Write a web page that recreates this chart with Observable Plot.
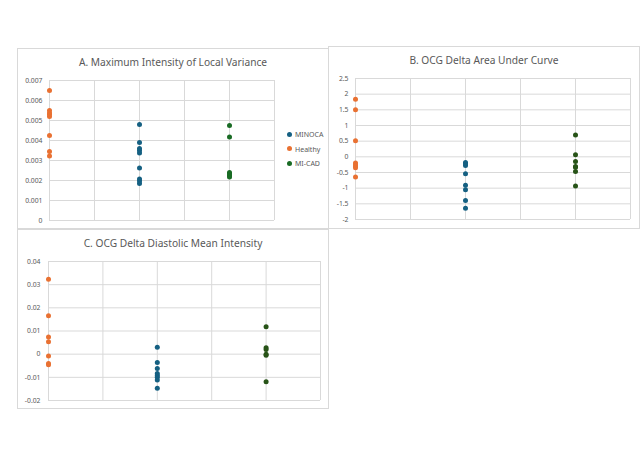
<!DOCTYPE html>
<html>
<head>
<meta charset="utf-8">
<script src="https://cdn.jsdelivr.net/npm/d3@7"></script>
<script src="https://cdn.jsdelivr.net/npm/@observablehq/plot@0.6"></script>
<style>
  html, body { margin: 0; padding: 0; background: #fff; }
  body { width: 644px; height: 458px; position: relative; overflow: hidden; font-family: "Noto Sans", sans-serif; color: #595959; }
  .panel { position: absolute; background: #fff; outline: 1px solid #d9d9d9; outline-offset: -1px; }
  .panel svg { position: absolute; left: 0; top: 0; }
  .title { position: absolute; left: 0; right: 0; text-align: center; font-size: 10.2px; line-height: 1; color: #595959; white-space: nowrap; }
  .legend { position: absolute; font-size: 7px; color: #595959; }
  .legend .item { position: absolute; white-space: nowrap; line-height: 1; }
  .legend .sw { display: inline-block; width: 5px; height: 5px; border-radius: 50%; margin-right: 3px; vertical-align: middle; position: relative; top: -1px; }
</style>
</head>
<body>
<script>
// ---- data ----
const groups = ["MINOCA", "Healthy", "MI-CAD"];
const groupXValue = [2, 0, 4];
const xGridValues = [0, 1, 2, 3, 4, 5];

const titleA = "A. Maximum Intensity of Local Variance";
const aMinoca = [0.0048, 0.0039, 0.0036, 0.0035, 0.00338, 0.00262, 0.00208, 0.00197, 0.00185];
const aHealthy = [0.0065, 0.0055, 0.00538, 0.0053, 0.0052, 0.00425, 0.00345, 0.00322];
const aMicad = [0.00475, 0.00417, 0.0024, 0.00232, 0.00225, 0.00218];
const aTicks = [0, 0.001, 0.002, 0.003, 0.004, 0.005, 0.006, 0.007];

const titleB = "B. OCG Delta Area Under Curve";
const bMinoca = [-0.18, -0.22, -0.28, -0.54, -0.91, -1.05, -1.39, -1.64];
const bHealthy = [1.84, 1.5, 0.51, -0.2, -0.25, -0.3, -0.35, -0.64];
const bMicad = [0.7, 0.07, -0.15, -0.31, -0.33, -0.47, -0.93];
const bTicks = [-2, -1.5, -1, -0.5, 0, 0.5, 1, 1.5, 2, 2.5];

const titleC = "C. OCG Delta Diastolic Mean Intensity";
const cMinoca = [0.003, -0.0036, -0.0062, -0.0083, -0.0092, -0.0100, -0.0111, -0.0147];
const cHealthy = [0.0323, 0.0166, 0.0074, 0.0054, -0.0008, -0.004, -0.0046];
const cMicad = [0.0118, 0.0028, 0.002, 0.0, -0.0005, -0.0119];
const cTicks = [-0.02, -0.01, 0, 0.01, 0.02, 0.03, 0.04];

// ---- styles ----
const colorsA = ["#156082", "#E97132", "#196B24"];
const colorsBC = ["#156082", "#E97132", "#275317"];

// ---- helpers ----
function rows(seriesList) {
  const out = [];
  seriesList.forEach((vals, i) => vals.forEach(v => out.push({group: groups[i], x: groupXValue[i], v})));
  return out;
}
const fmt = d => String(Math.round(d * 10000) / 10000);

function makePanel({left, top, width, height, title, titleTop, data, ticks, margins, tickPadding, colors}) {
  const div = document.createElement("div");
  div.className = "panel";
  Object.assign(div.style, {left: left + "px", top: top + "px", width: width + "px", height: height + "px"});
  const chart = Plot.plot({
    width, height,
    marginLeft: margins[0], marginRight: margins[1], marginTop: margins[2], marginBottom: margins[3],
    style: {background: "transparent", fontFamily: "'Noto Sans', sans-serif", fontSize: "6.8px", color: "#595959", overflow: "visible"},
    x: {domain: [0, 5], axis: null},
    y: {domain: [ticks[0], ticks[ticks.length - 1]], ticks, tickSize: 0, tickPadding, tickFormat: fmt, label: null},
    color: {domain: groups, range: colors},
    marks: [
      Plot.ruleY(ticks, {stroke: "#d9d9d9", strokeWidth: 1}),
      Plot.ruleX(xGridValues, {stroke: "#d9d9d9", strokeWidth: 1}),
      Plot.dot(data, {x: "x", y: "v", fill: "group", r: 2.5})
    ]
  });
  div.appendChild(chart);
  const t = document.createElement("div");
  t.className = "title";
  t.style.top = titleTop + "px";
  t.textContent = title;
  div.appendChild(t);
  document.body.appendChild(div);
  return div;
}

const panelA = makePanel({left: 17, top: 48, width: 312, height: 181, title: titleA, titleTop: 9,
  data: rows([aMinoca, aHealthy, aMicad]), ticks: aTicks, margins: [32, 55, 32, 9], tickPadding: 7, colors: colorsA});
makePanel({left: 328, top: 46, width: 312, height: 183, title: titleB, titleTop: 9,
  data: rows([bMinoca, bHealthy, bMicad]), ticks: bTicks, margins: [27, 10, 32, 10], tickPadding: 7, colors: colorsBC});
makePanel({left: 17, top: 229, width: 312, height: 180, title: titleC, titleTop: 9,
  data: rows([cMinoca, cHealthy, cMicad]), ticks: cTicks, margins: [31, 9, 32, 9], tickPadding: 8, colors: colorsBC});

// legend for panel A
const legend = document.createElement("div");
legend.className = "legend";
Object.assign(legend.style, {left: "270px", top: "83px"});
groups.forEach((g, i) => {
  const it = document.createElement("div");
  it.className = "item";
  it.style.top = (i * 14.5) + "px";
  const sw = document.createElement("span");
  sw.className = "sw";
  sw.style.background = colorsA[i];
  it.appendChild(sw);
  it.appendChild(document.createTextNode(g));
  legend.appendChild(it);
});
panelA.appendChild(legend);
</script>
</body>
</html>
